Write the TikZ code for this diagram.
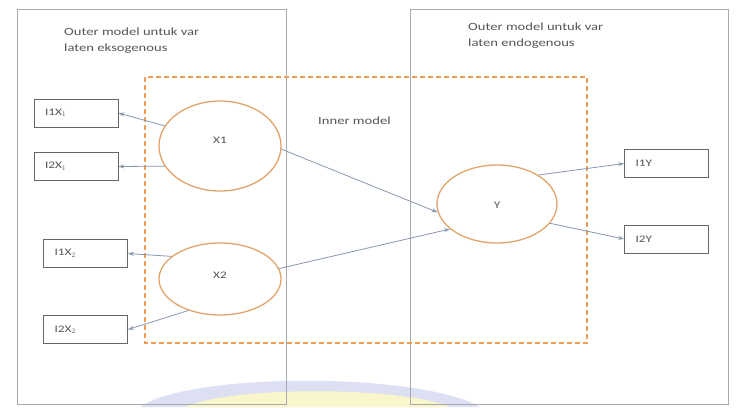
\documentclass[tikz,border=0pt]{standalone}
\usepackage{fontspec}
\setmainfont{Carlito}
\newfontfamily\widefont[FakeStretch=1.33]{Carlito}
\usetikzlibrary{arrows.meta,shapes.geometric}
\definecolor{panelc}{HTML}{A8AAB2}
\definecolor{orangec}{HTML}{EE9E55}
\definecolor{ellc}{HTML}{E2A46A}
\definecolor{arrc}{HTML}{8896AE}
\definecolor{txtc}{HTML}{555555}
\definecolor{wmblue}{HTML}{DCE0F2}
\definecolor{wmyellow}{HTML}{FAF6CC}
\begin{document}
\begin{tikzpicture}[x=1pt,y=-1pt,
  panel/.style={draw=panelc,line width=0.9pt},
  latent/.style={draw=ellc,line width=1.3pt,ellipse,inner sep=0pt},
  indbox/.style={draw=black!60,line width=0.8pt,rectangle,minimum width=84pt,minimum height=28pt,inner xsep=11pt,inner ysep=0pt,text width=62pt,align=left,text=txtc,font=\widefont\fontsize{10}{11}\selectfont},
  conn/.style={draw=arrc,line width=0.8pt,-{Stealth[length=6pt,width=4pt]}},
  lbl/.style={text=txtc,font=\widefont\fontsize{11}{16}\selectfont,align=left,anchor=north west,inner sep=0pt},
  ltxt/.style={text=txtc,font=\widefont\fontsize{10}{12}\selectfont}
]
\useasboundingbox (0,0) rectangle (738,407);
\fill[white] (0,0) rectangle (738,407);
% faint watermark arc
\fill[wmblue] (140,407) .. controls (190,372) and (420,372) .. (480,407) -- cycle;
\fill[wmyellow] (185,407) .. controls (230,386) and (400,386) .. (450,407) -- cycle;
% panels
\draw[panel] (17,9) rectangle (286,404);
\draw[panel] (410,9) rectangle (728,404);
% dashed inner model box
\draw[draw=orangec,line width=1.6pt,dash pattern=on 5pt off 3pt] (145,77) rectangle (587,343);
% texts
\node[lbl] (t1) at (64,28) {Outer model untuk var\\laten eksogenous};
\node[lbl] (t2) at (468,23) {Outer model untuk var\\laten endogenous};
\node[lbl] (t3) at (318,117) {Inner model};
% latent variables
\node[latent,minimum width=122pt,minimum height=90pt] (x1) at (220,146) {};
\node[ltxt] (x1t) at (220,140) {X1};
\node[latent,minimum width=122pt,minimum height=72pt] (x2) at (220,279) {};
\node[ltxt] (x2t) at (220,275) {X2};
\node[latent,minimum width=120pt,minimum height=78pt] (y) at (497,204) {};
\node[ltxt] (yt) at (497,205) {Y};
% indicators
\node[indbox] (i1x1) at (76,113) {I1X$_1$};
\node[indbox] (i2x1) at (76,166.5) {I2X$_1$};
\node[indbox] (i1x2) at (85.5,253.5) {I1X$_2$};
\node[indbox] (i2x2) at (85.5,329.5) {I2X$_2$};
\node[indbox] (i1y) at (666.5,163.5) {I1Y};
\node[indbox] (i2y) at (666.5,239) {I2Y};
% connectors
\draw[conn] (x1.160) -- (i1x1.east);
\draw[conn] (x1.200) -- (i2x1.east);
\draw[conn] (x2.155) -- (i1x2.east);
\draw[conn] (x2.225) -- (i2x2.east);
\draw[conn] (x1.-3) -- (y.188);
\draw[conn] (x2.10) -- (y.208);
\draw[conn] (y.35) -- (i1y.west);
\draw[conn] (y.-20) -- (i2y.west);
\end{tikzpicture}
\end{document}
